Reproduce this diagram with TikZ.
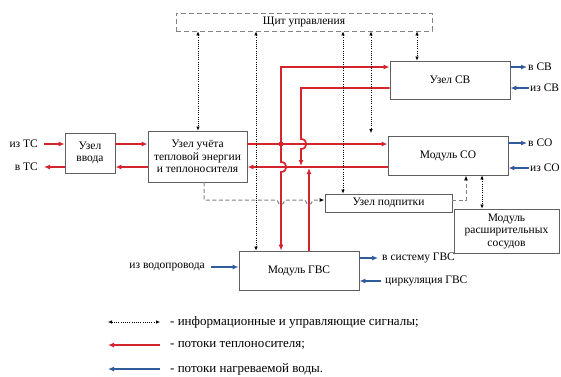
\documentclass[tikz,border=0pt]{standalone}
\usepackage{fontspec}
\setmainfont{Liberation Serif}
\usetikzlibrary{arrows.meta}
\definecolor{heat}{RGB}{214,36,44}
\definecolor{water}{RGB}{48,92,156}
\definecolor{frame}{RGB}{95,95,95}
\definecolor{dashline}{RGB}{130,130,130}

\tikzset{
  unit/.style={draw=frame, line width=0.9pt, fill=white, align=center,
    font=\fontsize{11.5}{12.5}\selectfont, inner sep=1pt},
  heatflow/.style={draw=heat, line width=1.7pt, -{Latex[length=6pt,width=5pt]}},
  waterflow/.style={draw=water, line width=1.4pt, -{Latex[length=6pt,width=5pt]}},
  signal/.style={draw=black, line width=0.6pt, dash pattern=on 1pt off 1.2pt,
    {Latex[length=4pt,width=3.5pt]}-{Latex[length=4pt,width=3.5pt]}},
  feed/.style={draw=dashline, line width=1pt, dash pattern=on 4pt off 2.5pt,
    -{Latex[length=5pt,width=4pt,color=black]}},
  lbl/.style={font=\fontsize{11.5}{13}\selectfont, inner sep=1pt},
  legendtext/.style={font=\fontsize{13}{15}\selectfont, anchor=west, inner sep=0pt},
}

\begin{document}
\begin{tikzpicture}[x=1pt,y=-1pt]
\useasboundingbox (0,0) rectangle (561,376);
\fill[white] (0,0) rectangle (561,376);

% units
\node[unit, draw=dashline, dash pattern=on 5pt off 3pt, minimum width=256, minimum height=18] (panel) at (304,22) {Щит управления};
\node[unit, minimum width=50, minimum height=40] (inlet) at (90,153) {Узел\\ввода};
\node[unit, minimum width=99, minimum height=51] (meter) at (197.5,156.5) {Узел учёта\\тепловой энергии\\и теплоносителя};
\node[unit, minimum width=120, minimum height=38] (hws) at (450,80) {Узел СВ};
\node[unit, minimum width=120, minimum height=39] (heat) at (448,155.5) {Модуль СО};
\node[unit, minimum width=127, minimum height=18] (makeup) at (388.5,203) {Узел подпитки};
\node[unit, minimum width=105, minimum height=44] (tanks) at (506.5,231) {Модуль\\расширительных\\сосудов};
\node[unit, minimum width=120, minimum height=39] (dhw) at (299,270.5) {Модуль ГВС};

% flow levels
\coordinate (hot) at (0,144);
\coordinate (cold) at (0,167);
\coordinate (tee) at (281,144);

% heating network connection
\node[lbl, anchor=east] (fromts) at (39,144) {из ТС};
\node[lbl, anchor=east] (tots) at (39,167) {в ТС};
\draw[heatflow] ([xshift=5pt]fromts.east) -- (inlet.west |- hot);
\draw[heatflow] (inlet.west |- cold) -- ([xshift=5pt]tots.east);

% heat carrier flows
\draw[heatflow] (inlet.east |- hot) -- (meter.west |- hot);
\draw[heatflow] (meter.west |- cold) -- (inlet.east |- cold);
\draw[heatflow] (meter.east |- hot) -- (heat.west |- hot);
\draw[heatflow] (heat.west |- cold) -- (meter.east |- cold);
\draw[heatflow] (tee) -- (281,67) -- (hws.west |- 0,67);
\draw[heatflow] (hws.west |- 0,88) -- (301,88) -- (301,139)
  .. controls (308,139) and (308,149) .. (301,149) -- (301,166);
\draw[heatflow] (tee) -- (281,162)
  .. controls (288,162) and (288,172) .. (281,172) -- (dhw.north -| 281,0);
\draw[heatflow] (dhw.north -| 309,0) -- (309,168);
\fill[heat] (tee) circle (2.4);

% heated water flows
\node[lbl, anchor=west] (tosv) at (527,67) {в СВ};
\node[lbl, anchor=west] (fromsv) at (529,88) {из СВ};
\draw[waterflow] (hws.east |- tosv) -- (tosv.west);
\draw[waterflow] (fromsv.west) -- (hws.east |- fromsv);
\node[lbl, anchor=west] (toso) at (527,143) {в СО};
\node[lbl, anchor=west] (fromso) at (529,168) {из СО};
\draw[waterflow] (heat.east |- toso) -- (toso.west);
\draw[waterflow] (fromso.west) -- (heat.east |- fromso);
\node[lbl, anchor=west] (todhw) at (381,258) {в систему ГВС};
\node[lbl, anchor=west] (circ) at (384,281) {циркуляция ГВС};
\draw[waterflow] (dhw.east |- todhw) -- ([xshift=-3pt]todhw.west);
\draw[waterflow] ([xshift=-3pt]circ.west) -- (dhw.east |- circ);
\node[lbl, anchor=east] (mains) at (206,267) {из водопровода};
\draw[waterflow] ([xshift=5pt]mains.east) -- (dhw.west |- mains);

% control signals
\coordinate (cosig) at (371,133);
\draw[signal] (panel.south -| 198,0) -- (meter.north -| 198,0);
\draw[signal] (panel.south -| 256,0) -- (dhw.north -| 256,0);
\draw[signal] (panel.south -| 343,0) -- (makeup.north -| 343,0);
\draw[signal] (panel.south -| cosig) -- (cosig);
\draw[signal] (panel.south -| 417,0) -- (hws.north -| 417,0);
\draw[signal] (heat.south -| 482,0) -- (tanks.north -| 482,0);

% make-up line
\draw[feed] (meter.south -| 204,0) -- (204,200) -- (277,200)
  .. controls (279,206) and (283,206) .. (285,200) -- (305,200)
  .. controls (307,206) and (311,206) .. (313,200) -- (makeup.west |- 0,200);
\draw[feed] (makeup.east |- 0,200) -- (466,200) -- (heat.south -| 466,0);

% legend
\coordinate (l1a) at (108,322); \coordinate (l1b) at (160,322);
\coordinate (l2a) at (108,345); \coordinate (l2b) at (160,345);
\coordinate (l3a) at (108,369); \coordinate (l3b) at (160,369);
\draw[signal] (l1a) -- (l1b);
\draw[heatflow] (l2b) -- (l2a);
\draw[waterflow] (l3b) -- (l3a);
\node[legendtext] (t1) at (170,322) {- информационные и управляющие сигналы;};
\node[legendtext] (t2) at (170,345) {- потоки теплоносителя;};
\node[legendtext] (t3) at (170,369) {- потоки нагреваемой воды.};
\end{tikzpicture}
\end{document}
